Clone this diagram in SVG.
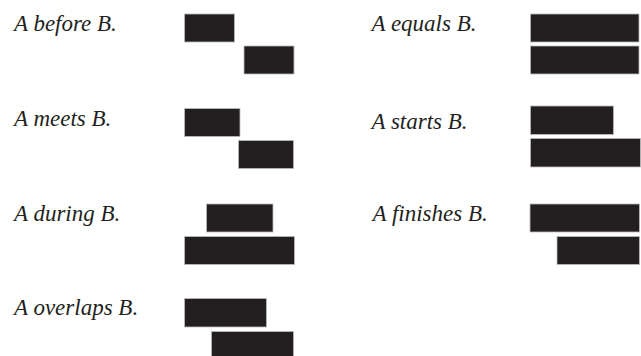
<svg xmlns="http://www.w3.org/2000/svg" width="641" height="356" viewBox="0 0 641 356">
<style>
.lbl{font-family:"Times New Roman",serif;font-style:italic;font-size:23px;fill:#231f20}
.bar{fill:#231f20;stroke:#bbbbbb;stroke-width:0.8}
</style>
<rect width="641" height="356" fill="#ffffff"/>
<g id="before">
<text class="lbl" x="14" y="31">A before B.</text>
<rect class="bar" x="184.5" y="14" width="50" height="28"/>
<rect class="bar" x="244" y="46" width="50" height="28"/>
</g>
<g id="meets">
<text class="lbl" x="14" y="125.5">A meets B.</text>
<rect class="bar" x="184.5" y="108.5" width="55.5" height="28"/>
<rect class="bar" x="238.5" y="140.5" width="55" height="28"/>
</g>
<g id="during">
<text class="lbl" x="14" y="220.5">A during B.</text>
<rect class="bar" x="206.5" y="204" width="66.5" height="28"/>
<rect class="bar" x="184.5" y="236.5" width="110" height="28"/>
</g>
<g id="overlaps">
<text class="lbl" x="14" y="315">A overlaps B.</text>
<rect class="bar" x="184.5" y="298.5" width="82" height="28.5"/>
<rect class="bar" x="211.5" y="331.5" width="82" height="28"/>
</g>
<g id="equals">
<text class="lbl" x="371.5" y="31">A equals B.</text>
<rect class="bar" x="530.5" y="14" width="108.5" height="28"/>
<rect class="bar" x="530.5" y="46" width="108.5" height="28"/>
</g>
<g id="starts">
<text class="lbl" x="371.5" y="128.5">A starts B.</text>
<rect class="bar" x="530.5" y="106" width="83" height="28.5"/>
<rect class="bar" x="530.5" y="138.5" width="110" height="28.5"/>
</g>
<g id="finishes">
<text class="lbl" x="372.5" y="220.5">A finishes B.</text>
<rect class="bar" x="530" y="204" width="109.5" height="28"/>
<rect class="bar" x="557" y="236.5" width="82.5" height="28"/>
</g>
<g id="connectors"/>
</svg>
